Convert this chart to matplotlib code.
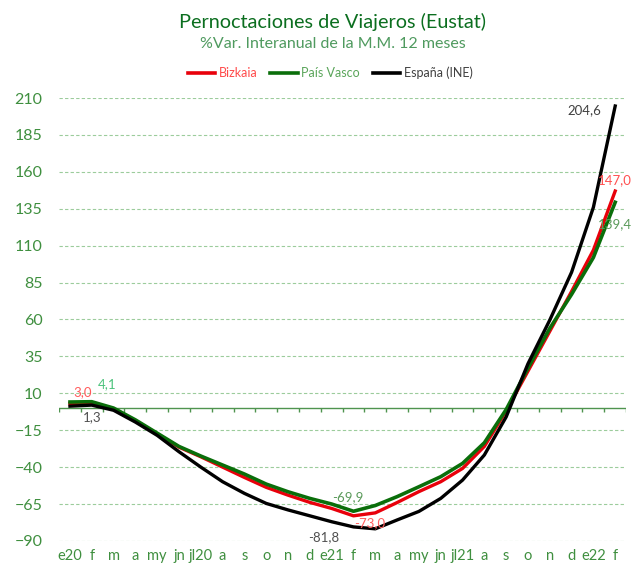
import matplotlib
matplotlib.use("Agg")
import matplotlib.pyplot as plt

# --- data ---
months = ["e20", "f", "m", "a", "my", "jn", "jl20", "a", "s", "o", "n", "d",
          "e21", "f", "m", "a", "my", "jn", "jl21", "a", "s", "o", "n", "d",
          "e22", "f"]

bizkaia = [3.0, 3.5, -0.5, -8.5, -17.5, -26.5, -33, -40, -47, -53.7, -59, -63.9,
           -68, -73.0, -71, -64, -56.6, -49.9, -40.9, -26, -2, 25, 52, 79,
           107, 147.0]
pais_vasco = [4.1, 4.3, 0, -8, -17, -26, -32.5, -38.6, -44.7, -51.5, -56.7, -61.2,
              -65, -69.9, -66, -60, -53.3, -46.5, -37.5, -23.5, -1, 27, 54, 77,
              102, 139.4]
espana = [1.3, 2, -1.5, -9.5, -18.5, -29.6, -40, -49.9, -57.8, -64.6, -69, -73,
          -77, -80.5, -81.8, -75.8, -70, -61.2, -48.8, -31.8, -6, 30, 59.6, 92,
          136, 204.6]

yticks = [-90, -65, -40, -15, 10, 35, 60, 85, 110, 135, 160, 185, 210]

plt.rcParams["font.family"] = ["Lato", "DejaVu Sans"]

fig = plt.figure(figsize=(6.35, 5.7), dpi=100)
ax = fig.add_axes([0.093, 0.051, 0.893, 0.777])

x = list(range(len(months)))
ax.plot(x, bizkaia, color="#e8000b", lw=2.4, label="Bizkaia", solid_joinstyle="round")
ax.plot(x, pais_vasco, color="#0a6e0a", lw=2.6, label="País Vasco", solid_joinstyle="round")
ax.plot(x, espana, color="#000000", lw=2.4, label="España (INE)", solid_joinstyle="round")

ax.set_xlim(-0.5, len(months) - 0.5)
ax.set_ylim(-90, 210)
ax.set_yticks(yticks)
ax.yaxis.grid(True, color="#9ccc9c", linestyle=(0, (3, 2)), lw=0.8)
ax.set_axisbelow(True)
ax.tick_params(axis="y", length=0, labelsize=11.5, colors="#3f8f3f", pad=12)
ax.set_xticks(x)
ax.set_xticklabels(months)
ax.tick_params(axis="x", length=0, labelsize=10.5, colors="#3f8f3f", pad=6)
for s in ax.spines.values():
    s.set_visible(False)

# category axis drawn at zero with boundary ticks
ax.axhline(0, color="#4f944f", lw=1.0, zorder=1)
bounds = [i - 0.5 for i in range(len(months) + 1)]
ax.vlines(bounds, -3, 0, color="#4f944f", lw=1.0, zorder=1)

def fmt(v):
    return f"{v:.1f}".replace(".", ",")

labels = [
    (bizkaia, 0, (9, 8), "#ff5a5a"),
    (pais_vasco, 0, (27, 13), "#4cc37c"),
    (espana, 0, (16, -8), "#505050"),
    (pais_vasco, 13, (-4, 10), "#5a9a5a"),
    (bizkaia, 13, (12, -5), "#ff6060"),
    (espana, 14, (-37, -6), "#505050"),
    (espana, 25, (-22, -3), "#404040"),
    (bizkaia, 25, (0, 8), "#ff5050"),
    (pais_vasco, 25, (0, -16), "#5a9a5a"),
]
for series, i, off, col in labels:
    ax.annotate(fmt(series[i]), (i, series[i]), xytext=off, textcoords="offset points",
                ha="center", va="center", fontsize=9.5, color=col)

fig.text(0.524, 0.962, "Pernoctaciones de Viajeros (Eustat)", ha="center", va="center",
         fontsize=14.3, color="#0b6e1f")
fig.text(0.524, 0.922, "%Var. Interanual de la M.M. 12 meses", ha="center", va="center",
         fontsize=11.5, color="#4f9a5f")

leg = fig.legend(loc="center", bbox_to_anchor=(0.52, 0.872), ncol=3, frameon=False,
                 fontsize=9, handlelength=2.2, handletextpad=0.3, columnspacing=1.0,
                 labelcolor=["#ff4a4a", "#5aa55a", "#404040"])
for h in leg.legend_handles:
    h.set_linewidth(2.6)

fig.savefig("out.png", dpi=100)
